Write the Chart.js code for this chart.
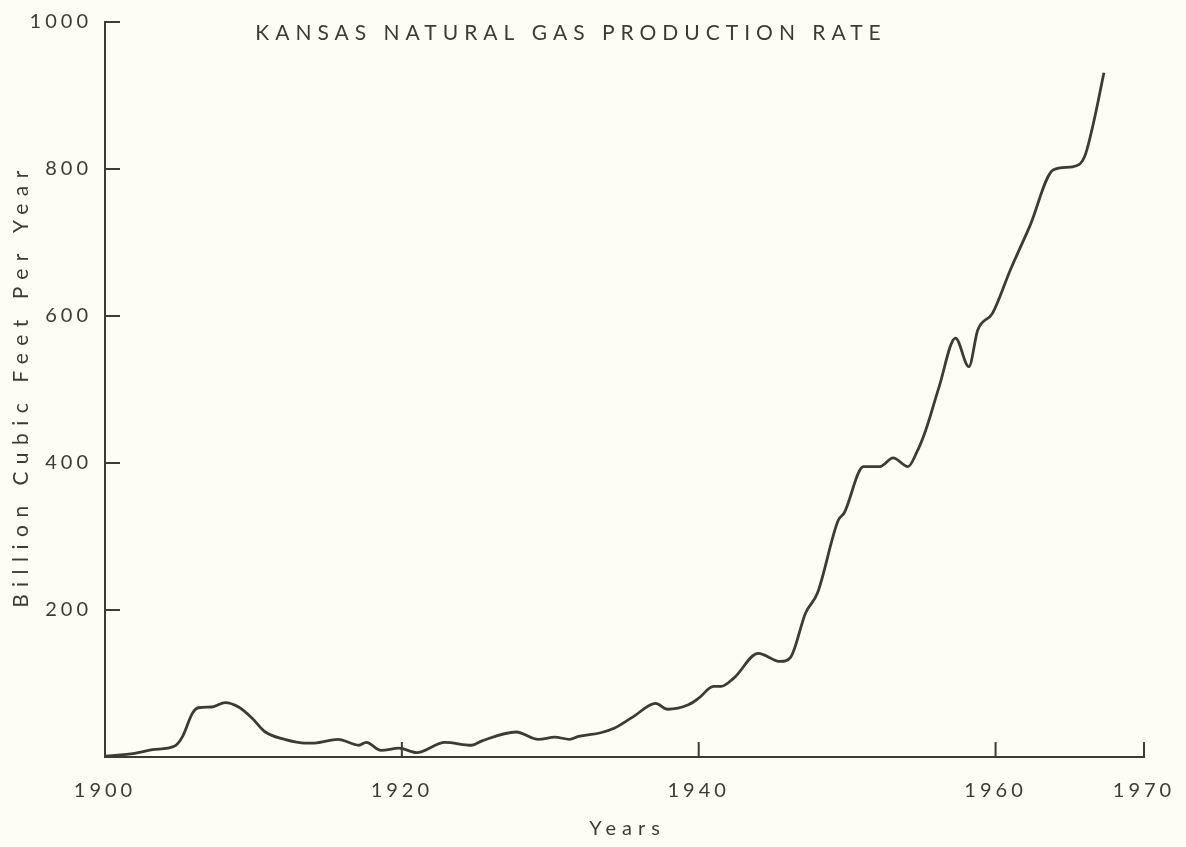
<!DOCTYPE html>
<html>
<head>
<meta charset="utf-8">
<script src="https://cdn.jsdelivr.net/npm/chart.js@4/dist/chart.umd.min.js"></script>
<style>
  html, body { margin: 0; padding: 0; background: #fdfdf4; }
  #wrap { width: 1186px; height: 847px; position: relative; }
</style>
</head>
<body>
<div id="wrap"><canvas id="gas"></canvas></div>
<script>
// values
const years = [1900, 1902, 1903.2, 1904.7, 1905.2, 1905.9, 1906.3, 1907.2, 1908.1, 1909, 1909.9, 1910.8,
  1912.1, 1913.5, 1914.1, 1915.7, 1917.1, 1917.6, 1918.6, 1919.8, 1921, 1922.9, 1924.7, 1925.4,
  1927.7, 1929.2, 1930.3, 1931.3, 1931.9, 1933.4, 1934.3, 1935.6, 1937.1, 1937.9, 1939.3, 1940,
  1941, 1941.5, 1942.4, 1944, 1945.5, 1946.2, 1947.2, 1948, 1949.4, 1949.8, 1951.1, 1952.2,
  1953.1, 1954.1, 1954.7, 1955.3, 1956.2, 1957.3, 1958.2, 1958.8, 1959.8, 1961, 1962.3, 1963.9,
  1965.2, 1966, 1966.6, 1967.3];
const production = [1, 5, 10, 15, 27, 60, 67, 68, 74, 68, 53, 34,
  24, 19, 19, 24, 16, 20, 9, 12, 6, 20, 16, 22,
  34, 24, 27, 24, 28, 33, 39, 55, 73, 65, 71, 80,
  96, 96, 108, 141, 130, 136, 196, 223, 322, 332, 395, 395,
  407, 395, 415, 445, 504, 570, 531, 581, 604, 663, 722, 799,
  803, 817, 863, 931];
const xTickYears = [1900, 1920, 1940, 1960, 1970];
const yTickValues = [200, 400, 600, 800, 1000];
const chartTitle = 'KANSAS NATURAL GAS PRODUCTION RATE';

const ink = '#3c3c36';
const fontFamily = 'Lato, "Noto Sans", sans-serif';

// letter spacing has to be set again after every canvas resize
const spacing = {
  id: 'spacing',
  beforeUpdate(chart) { chart.ctx.letterSpacing = '4px'; },
  beforeDraw(chart) { chart.ctx.letterSpacing = '4px'; }
};

// axis titles drawn by hand so they can get wider spacing, plus inward ticks and the title
const extras = {
  id: 'extras',
  afterDraw(chart) {
    const ctx = chart.ctx;
    const { x, y } = chart.scales;
    const area = chart.chartArea;
    ctx.save();
    ctx.strokeStyle = ink;
    ctx.lineWidth = 2;
    ctx.beginPath();
    yTickValues.forEach(v => {
      const py = y.getPixelForValue(v);
      ctx.moveTo(area.left, py);
      ctx.lineTo(area.left + 15, py);
    });
    xTickYears.slice(1).forEach(v => {
      const px = x.getPixelForValue(v);
      ctx.moveTo(px, area.bottom);
      ctx.lineTo(px, area.bottom - 15);
    });
    ctx.stroke();

    ctx.fillStyle = ink;
    ctx.textAlign = 'center';
    ctx.textBaseline = 'middle';

    ctx.letterSpacing = '6px';
    ctx.font = '21px ' + fontFamily;
    ctx.fillText(chartTitle, 571, y.getPixelForValue(1000) + 11);

    ctx.letterSpacing = '6px';
    ctx.font = '20px ' + fontFamily;
    ctx.fillText('Years', (area.left + area.right) / 2 + 3, 829);

    ctx.translate(21, (area.top + area.bottom) / 2);
    ctx.rotate(-Math.PI / 2);
    ctx.letterSpacing = '7.5px';
    ctx.font = '21px ' + fontFamily;
    ctx.fillText('Billion Cubic Feet Per Year', 4, 0);
    ctx.restore();
  }
};

new Chart('gas', {
  type: 'line',
  data: {
    datasets: [{
      data: years.map((yr, i) => ({ x: yr, y: production[i] })),
      borderColor: ink,
      borderWidth: 2.8,
      pointRadius: 0,
      cubicInterpolationMode: 'monotone',
      fill: false
    }]
  },
  options: {
    responsive: true,
    maintainAspectRatio: false,
    animation: false,
    layout: { padding: { top: 22, right: 42, left: 0, bottom: 0 } },
    plugins: {
      legend: { display: false },
      tooltip: { enabled: false }
    },
    scales: {
      x: {
        type: 'linear',
        min: 1900,
        max: 1970,
        afterBuildTicks: s => { s.ticks = xTickYears.map(v => ({ value: v })); },
        afterFit: s => { s.height = 90; s.paddingLeft = 0; s.paddingRight = 0; },
        grid: { display: true, drawOnChartArea: false, drawTicks: false },
        border: { display: true, color: ink, width: 2 },
        ticks: {
          padding: 22,
          color: ink,
          font: { family: fontFamily, size: 20 },
          callback: v => String(v)
        }
      },
      y: {
        min: 0,
        max: 1000,
        afterBuildTicks: s => { s.ticks = yTickValues.map(v => ({ value: v })); },
        afterFit: s => { s.width = 105; s.paddingTop = 0; s.paddingBottom = 0; },
        grid: { display: true, drawOnChartArea: false, drawTicks: false },
        border: { display: true, color: ink, width: 2 },
        ticks: {
          padding: 13,
          color: ink,
          font: { family: fontFamily, size: 20 },
          callback: v => String(v)
        }
      }
    }
  },
  plugins: [spacing, extras]
});
</script>
</body>
</html>
